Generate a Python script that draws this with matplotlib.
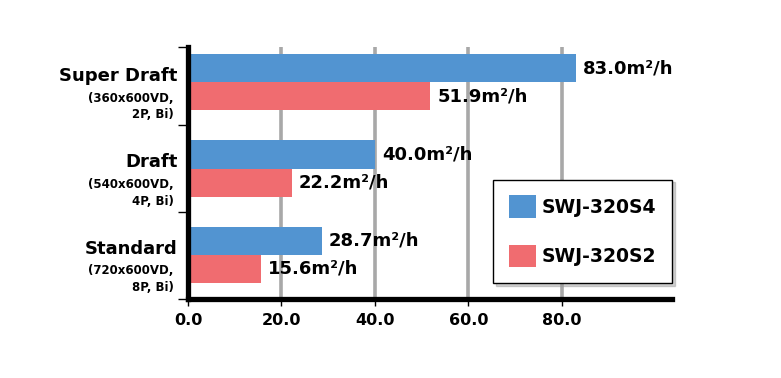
import matplotlib
matplotlib.use("Agg")
import matplotlib.pyplot as plt
import numpy as np

categories = ["Super Draft", "Draft", "Standard"]
subtitles = ["(360x600VD,\n2P, Bi)", "(540x600VD,\n4P, Bi)", "(720x600VD,\n8P, Bi)"]
series_names = ["SWJ-320S4", "SWJ-320S2"]
s4_values = [83.0, 40.0, 28.7]
s2_values = [51.9, 22.2, 15.6]
x_ticks = [0, 20, 40, 60, 80]
x_tick_labels = ["0.0", "20.0", "40.0", "60.0", "80.0"]

plt.rcParams['font.family'] = ['DejaVu Sans']
plt.rcParams['font.weight'] = 'bold'

BLUE = '#5294D1'
RED = '#F06C70'

fig = plt.figure(figsize=(7.81, 3.78), dpi=100)
ax = fig.add_axes([188/781, 1-299/378, (672-188)/781, (299-47)/378])

y = np.arange(len(categories))
h = 0.324
b1 = ax.barh(y - h/2, s4_values, height=h, color=BLUE, label=series_names[0], zorder=3)
b2 = ax.barh(y + h/2, s2_values, height=h, color=RED, label=series_names[1], zorder=3)

for bars, vals in ((b1, s4_values), (b2, s2_values)):
    for rect, v in zip(bars, vals):
        ax.annotate(f"{v:.1f}m\u00b2/h", xy=(rect.get_width(), rect.get_y() + rect.get_height()/2),
                    xytext=(5, 0), textcoords='offset points', va='center', ha='left',
                    fontsize=13, fontweight='bold', color='black', zorder=5)

ax.set_xlim(0, 103.6)
ax.set_ylim(2.509, -0.405)

for xv in x_ticks[1:]:
    ax.axvline(xv, color='#A8A8A8', lw=2.6, zorder=1)

ax.set_xticks(x_ticks)
ax.set_xticklabels(x_tick_labels, fontsize=11.5, fontweight='bold')
ax.tick_params(axis='x', direction='out', length=5, width=1, pad=5)

# y ticks at category separators
ax.set_yticks([-0.405, 0.5, 1.5, 2.509])
ax.set_yticklabels([])
ax.tick_params(axis='y', direction='out', length=7, width=1)

for s in ['top', 'right']:
    ax.spines[s].set_visible(False)
ax.spines['left'].set_linewidth(3.8)
ax.spines['bottom'].set_linewidth(3.8)
ax.spines['left'].set_zorder(6)
ax.spines['bottom'].set_zorder(6)

for i, (c, s) in enumerate(zip(categories, subtitles)):
    ax.text(-0.022, i - 0.07, c, transform=ax.get_yaxis_transform(), ha='right', va='center',
            fontsize=13, fontweight='bold')
    ax.text(-0.03, i + 0.11, s, transform=ax.get_yaxis_transform(), ha='right', va='top',
            fontsize=8.5, fontweight='bold', linespacing=1.35)

leg = ax.legend(loc='lower right', bbox_to_anchor=(1.0, 0.063), frameon=True, fancybox=False,
                shadow={'color': '#999999', 'alpha': 0.45}, fontsize=13.5, handlelength=1.45,
                handleheight=1.45, labelspacing=1.45, handletextpad=0.3, borderpad=0.85,
                borderaxespad=0, edgecolor='black', framealpha=1)
leg.get_frame().set_linewidth(1.0)
leg.set_zorder(7)
for t in leg.get_texts():
    t.set_fontweight('bold')

fig.savefig('out.png', dpi=100)
